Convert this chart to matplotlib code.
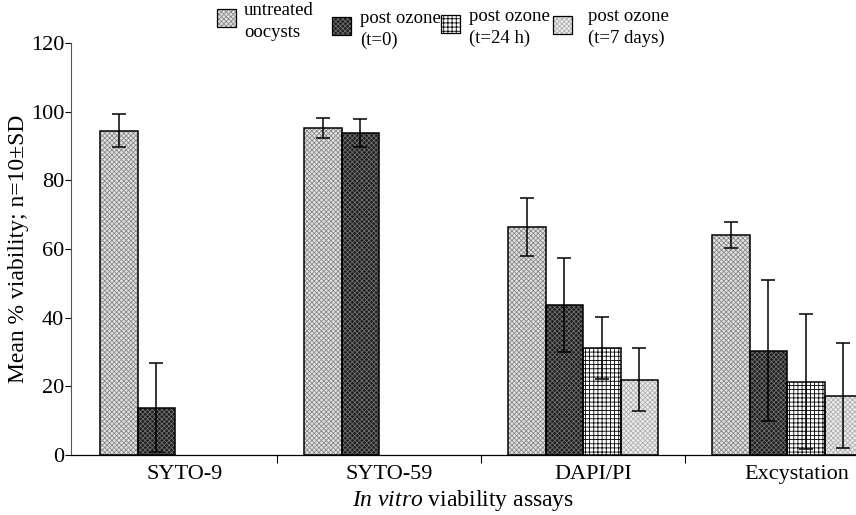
import numpy as np
import matplotlib
matplotlib.use("Agg")
import matplotlib.pyplot as plt
from matplotlib.patches import Rectangle
from matplotlib.transforms import ScaledTranslation

plt.rcParams['font.family'] = ['Liberation Serif', 'DejaVu Serif']
plt.rcParams['mathtext.fontset'] = 'custom'
plt.rcParams['mathtext.rm'] = 'Liberation Serif'
plt.rcParams['mathtext.it'] = 'Liberation Serif:italic'
plt.rcParams['hatch.linewidth'] = 0.6

# Datos (media y SD, n=10)
assays = ['SYTO-9', 'SYTO-59', 'DAPI/PI', 'Excystation']
series = ['untreated\noocysts', 'post ozone\n(t=0)', 'post ozone\n(t=24 h)', 'post ozone\n(t=7 days)']

untreated = [94.5, 95.2, 66.5, 64.2]
untreated_sd = [4.9, 3.0, 8.4, 3.8]
t0 = [13.8, 93.8, 43.8, 30.4]
t0_sd = [13.0, 4.0, 13.7, 20.5]
t24 = [np.nan, np.nan, 31.2, 21.4]
t24_sd = [np.nan, np.nan, 9.0, 19.6]
t7 = [np.nan, np.nan, 21.9, 17.2]
t7_sd = [np.nan, np.nan, 9.2, 15.3]

values = [untreated, t0, t24, t7]
errors = [untreated_sd, t0_sd, t24_sd, t7_sd]

# estilo de relleno: (fondo, trama, color de trama)
styles = [
    ('#e2e2e2', 'xxxxxxx', '#8a8a8a'),
    ('#1e1e1e', 'xxxxxxx', '#6e6e6e'),
    ('#ffffff', '++++', '#000000'),
    ('#ececec', 'xxxxxxx', '#b0b0b0'),
]

W, H = 856, 515
fig = plt.figure(figsize=(W / 100, H / 100), dpi=100)
ax = fig.add_axes([71 / W, 1 - 455 / H, 785 / W, 412 / H])

x = np.arange(len(assays))
w = 0.184
for j, (vals, sds) in enumerate(zip(values, errors)):
    vals = np.array(vals, dtype=float)
    sds = np.array(sds, dtype=float)
    m = ~np.isnan(vals)
    xs = x[m] + (j - 1.5) * w
    face, hatch, hcol = styles[j]
    ax.bar(xs, vals[m], w, color=face, linewidth=0, zorder=2)
    ax.bar(xs, vals[m], w, color='none', edgecolor=hcol, hatch=hatch, linewidth=0, zorder=2.5)
    ax.bar(xs, vals[m], w, color='none', edgecolor='black', linewidth=1.1, zorder=3)
    ax.errorbar(xs, vals[m], yerr=sds[m], fmt='none', ecolor='black',
                elinewidth=1.1, capsize=5, capthick=1.1, zorder=4)

ax.set_xlim(-0.51, 3.338)
ax.set_ylim(0, 120)
ax.set_yticks(range(0, 121, 20))
ax.set_xticks(x)
ax.set_xticklabels(assays)
ax.set_xticks([0.5, 1.5, 2.5], minor=True)

ax.spines['top'].set_visible(False)
ax.spines['right'].set_visible(False)
ax.spines['left'].set_color('#555555')
ax.spines['left'].set_linewidth(0.8)
ax.spines['bottom'].set_linewidth(0.9)

ax.tick_params(axis='y', direction='out', length=4, width=0.8, labelsize=16, pad=1)
ax.tick_params(axis='x', which='major', length=0, labelsize=16, pad=7)
ax.tick_params(axis='x', which='minor', length=6, width=0.8, direction='out')

offset = ScaledTranslation(0.1, 0, fig.dpi_scale_trans)
for lab in ax.get_xticklabels():
    lab.set_transform(lab.get_transform() + offset)

ax.set_ylabel('Mean % viability; n=10±SD', fontsize=17, labelpad=1)
ax.set_xlabel(r'$\mathit{In\ vitro}$ viability assays', fontsize=17, labelpad=3)

# leyenda manual arriba (posiciones en pixeles de la figura)
leg_patch_x = [217, 332, 441, 553]
leg_patch_y = [9, 17, 15, 16]
leg_text_x = [244, 360, 469, 588]
leg_text_y = [2, 10, 8, 8]
pw, ph = 19, 18
for j, label in enumerate(series):
    face, hatch, hcol = styles[j]
    px, py = leg_patch_x[j], leg_patch_y[j]
    rect = dict(xy=(px / W, 1 - (py + ph) / H), width=pw / W, height=ph / H,
                transform=fig.transFigure)
    fig.add_artist(Rectangle(**rect, facecolor=face, linewidth=0))
    fig.add_artist(Rectangle(**rect, facecolor='none', edgecolor=hcol, hatch=hatch, linewidth=0))
    fig.add_artist(Rectangle(**rect, facecolor='none', edgecolor='black', linewidth=0.9))
    fig.text(leg_text_x[j] / W, 1 - leg_text_y[j] / H, label, ha='left', va='top',
             fontsize=13.5, linespacing=1.35)

fig.savefig('out.png', dpi=100)
